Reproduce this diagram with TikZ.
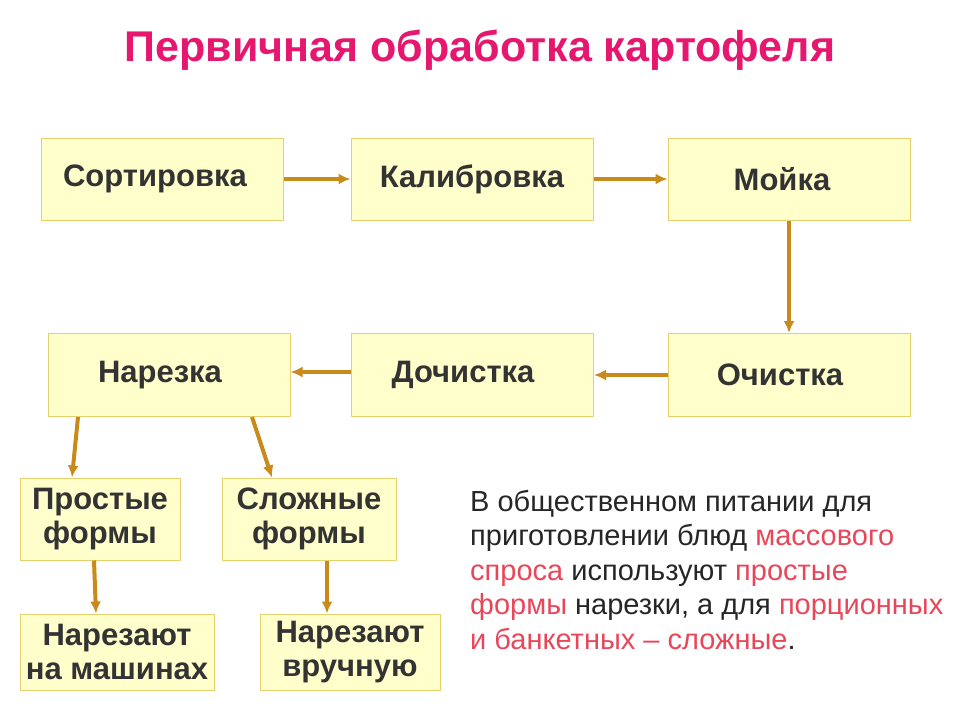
\documentclass[tikz,border=0pt]{standalone}
\usepackage{fontspec}
\setmainfont{Liberation Sans}
\usetikzlibrary{arrows.meta}
\definecolor{boxfill}{HTML}{FFFFCC}
\definecolor{boxline}{HTML}{E6CF6E}
\definecolor{arr}{HTML}{C98A1A}
\definecolor{ttl}{HTML}{E5176E}
\definecolor{red2}{HTML}{E8475A}
\begin{document}
\begin{tikzpicture}[x=1pt,y=-1pt,
  box/.style={draw=boxline,fill=boxfill,line width=1pt,font=\fontsize{31}{34}\selectfont\bfseries,text=black!80,align=center,inner sep=0pt},
  con/.style={draw=arr,line width=4pt,-{Latex[length=12pt,width=11pt]}}]
\useasboundingbox (0,0) rectangle (959,717);
\node[font=\fontsize{43}{48}\selectfont\bfseries,text=ttl] (title) at (480,50) {Первичная обработка картофеля};
\node[box,minimum width=242pt,minimum height=82pt] (sort) at (162,179) {\hspace*{-14pt}\raisebox{-4pt}{Сортировка}};
\node[box,minimum width=242pt,minimum height=82pt] (kal) at (472,179) {\raisebox{-4pt}{Калибровка}};
\node[box,minimum width=242pt,minimum height=82pt] (moy) at (789,179) {\hspace*{-14pt}\raisebox{-2pt}{Мойка}};
\node[box,minimum width=242pt,minimum height=83pt] (nar) at (169,375) {\hspace*{-18pt}\raisebox{-4pt}{Нарезка}};
\node[box,minimum width=242pt,minimum height=83pt] (doch) at (472,375) {\hspace*{-18pt}\raisebox{-4pt}{Дочистка}};
\node[box,minimum width=242pt,minimum height=83pt] (och) at (789,375) {\hspace*{-18pt}\raisebox{-2pt}{Очистка}};
\node[box,minimum width=160pt,minimum height=82pt] (prost) at (100,519) {Простые\\формы};
\node[box,minimum width=174pt,minimum height=82pt] (slozh) at (309,519) {Сложные\\формы};
\node[box,minimum width=194pt,minimum height=76pt] (mash) at (117,652) {Нарезают\\на машинах};
\node[box,minimum width=180pt,minimum height=76pt] (ruch) at (350,652) {Нарезают\\вручную};
\draw[con] (sort.east) -- (kal.west);
\draw[con] (kal.east) -- (moy.west);
\draw[con] (moy.south) -- (och.north);
\draw[con] (och.west) -- (doch.west -| 594,375);
\draw[con] (doch.west |- 0,372) -- (nar.east |- 0,372);
\draw[con] (nar.south -| 78,0) -- (prost.north -| 72,0);
\draw[con] (nar.south -| 252,0) -- (slozh.north -| 272,0);
\draw[con] (prost.south -| 94,0) -- (mash.north -| 96,0);
\draw[con] (slozh.south -| 327,0) -- (ruch.north -| 327,0);
\node[anchor=north west,align=left,inner sep=0pt,font=\fontsize{29}{34.5}\selectfont,text=black!85] (txt) at (470,490)
 {В общественном питании для\\
 приготовлении блюд \textcolor{red2}{массового}\\
 \textcolor{red2}{спроса} используют \textcolor{red2}{простые}\\
 \textcolor{red2}{формы} нарезки, а для \textcolor{red2}{порционных}\\
 \textcolor{red2}{и банкетных – сложные}.};
\end{tikzpicture}
\end{document}
